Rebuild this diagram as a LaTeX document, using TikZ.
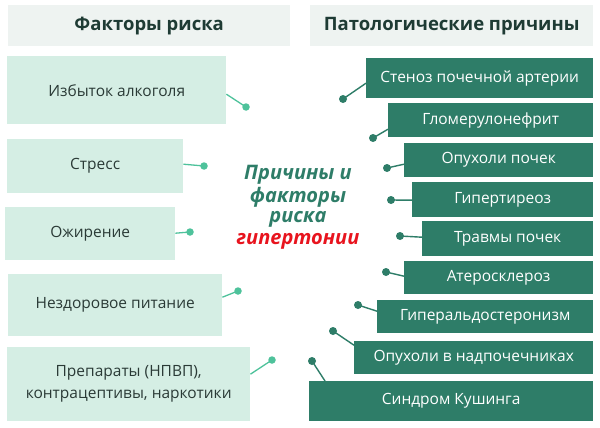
\documentclass[tikz,border=0pt]{standalone}
\usepackage{fontspec}
\setmainfont{Open Sans}
\definecolor{hdrfill}{HTML}{EEF3F1}
\definecolor{hdrtext}{HTML}{1E3B34}
\definecolor{lfill}{HTML}{D5EEE4}
\definecolor{ltext}{HTML}{2A3A36}
\definecolor{rfill}{HTML}{2E7D68}
\definecolor{ldot}{HTML}{4EC29B}
\definecolor{cgreen}{HTML}{2E7D68}
\definecolor{cred}{HTML}{E8141E}
\tikzset{
  hdr/.style={fill=hdrfill, draw=none, anchor=north west, inner sep=0pt, text=hdrtext, font=\fontsize{18.5}{22}\selectfont\bfseries},
  lbox/.style={fill=lfill, draw=none, anchor=north west, inner sep=0pt, text=ltext, align=center, font=\fontsize{15.5}{22}\selectfont},
  rbox/.style={fill=rfill, draw=none, anchor=north west, inner sep=0pt, text=white, align=center, font=\fontsize{15.5}{19}\selectfont},
  ldotst/.style={circle, fill=ldot, draw=none, minimum size=7.5pt, inner sep=0pt},
  rdotst/.style={circle, fill=rfill, draw=none, minimum size=8pt, inner sep=0pt},
  lline/.style={draw=ldot, line width=1.3pt},
  rline/.style={draw=rfill, line width=1.4pt},
  ctext/.style={font=\fontsize{20}{23}\selectfont\bfseries\itshape, align=center}
}
\begin{document}
\begin{tikzpicture}[x=1pt,y=-1pt]
\useasboundingbox (0,0) rectangle (600,428);
\fill[white] (0,0) rectangle (600,428);
% headers
\node[hdr, minimum width=282pt, minimum height=41pt] (h1) at (8,5) {Факторы риска};
\node[hdr, minimum width=283pt, minimum height=41pt] (h2) at (310,5) {Патологические причины};
% left boxes
\node[lbox, minimum width=219pt, minimum height=68pt] (l1) at (7,56) {Избыток алкоголя};
\node[lbox, minimum width=176pt, minimum height=54pt] (l2) at (7,139) {Стресс};
\node[lbox, minimum width=170pt, minimum height=53pt] (l3) at (5,207) {Ожирение};
\node[lbox, minimum width=214pt, minimum height=62pt] (l4) at (8,274) {Нездоровое питание};
\node[lbox, minimum width=243pt, minimum height=74pt] (l5) at (7,347) {Препараты (НПВП),\\контрацептивы, наркотики};
% left dots
\node[ldotst] (d1) at (246,107) {};
\node[ldotst] (d2) at (204,166) {};
\node[ldotst] (d3) at (190,232) {};
\node[ldotst] (d4) at (238,291) {};
\node[ldotst] (d5) at (272,360) {};
\draw[lline] ([yshift=-4pt]l1.east) -- (d1.center);
\draw[lline] ([yshift=2pt]l2.east) -- (d2.center);
\draw[lline] ([yshift=0.5pt]l3.east) -- (d3.center);
\draw[lline] ([yshift=8pt]l4.east) -- (d4.center);
\draw[lline] ([yshift=10pt]l5.east) -- (d5.center);
% right boxes
\node[rbox, minimum width=227pt, minimum height=40pt] (r1) at (366,58) {Стеноз почечной артерии};
\node[rbox, minimum width=205pt, minimum height=34pt] (r2) at (388,103) {Гломерулонефрит};
\node[rbox, minimum width=189pt, minimum height=34pt] (r3) at (404,143) {Опухоли почек};
\node[rbox, minimum width=181pt, minimum height=35pt] (r4) at (412,182) {Гипертиреоз};
\node[rbox, minimum width=171pt, minimum height=35pt] (r5) at (422,221) {Травмы почек};
\node[rbox, minimum width=189pt, minimum height=33pt] (r6) at (404,261) {Атеросклероз};
\node[rbox, minimum width=216pt, minimum height=33pt] (r7) at (377,300) {Гиперальдостеронизм};
\node[rbox, minimum width=239pt, minimum height=33pt] (r8) at (354,341) {Опухоли в надпочечниках};
\node[rbox, minimum width=284pt, minimum height=40pt] (r9) at (309,381) {Синдром Кушинга};
% right dots
\node[rdotst] (e1) at (343,99) {};
\node[rdotst] (e2) at (373,138) {};
\node[rdotst] (e3) at (387,168) {};
\node[rdotst] (e4) at (391,200) {};
\node[rdotst] (e5) at (400,236) {};
\node[rdotst] (e6) at (386,272) {};
\node[rdotst] (e7) at (358,305) {};
\node[rdotst] (e8) at (333,331) {};
\node[rdotst] (e9) at (312,361) {};
\draw[rline] ([yshift=-5pt]r1.west) -- (e1.center);
\draw[rline] ([yshift=-9pt]r2.west) -- (e2.center);
\draw[rline] ([yshift=-4pt]r3.west) -- (e3.center);
\draw[rline] ([yshift=-0.5pt]r4.west) -- (e4.center);
\draw[rline] ([yshift=1.5pt]r5.west) -- (e5.center);
\draw[rline] ([yshift=1.5pt]r6.west) -- (e6.center);
\draw[rline] ([yshift=5.5pt]r7.west) -- (e7.center);
\draw[rline] ([yshift=12.5pt]r8.west) -- (e8.center);
\draw[rline] ([xshift=16pt]r9.north west) -- (e9.center);
% center title
\node[ctext, text=cgreen] (c1) at (298,175) {Причины и};
\node[ctext, text=cgreen] (c2) at (298,197) {факторы};
\node[ctext, text=cgreen] (c3) at (298,219) {риска};
\node[ctext, text=cred] (c4) at (298,241) {гипертонии};
\end{tikzpicture}
\end{document}
